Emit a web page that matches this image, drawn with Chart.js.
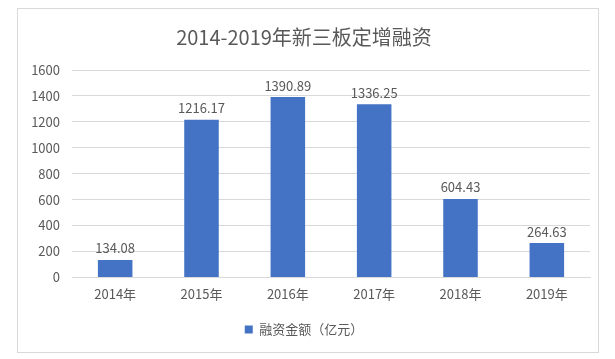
<!DOCTYPE html>
<html>
<head>
<meta charset="utf-8">
<script src="https://cdn.jsdelivr.net/npm/chart.js@4/dist/chart.umd.min.js"></script>
<style>
  body { margin: 0; background: #fff; }
  #box {
    position: absolute;
    left: 17px;
    top: 8px;
    width: 580px;
    height: 343px;
    border: 1px solid #d9d9d9;
  }
</style>
</head>
<body>
<div id="box"><canvas id="chart" width="580" height="343"></canvas></div>
<script>
const years = ["2014年", "2015年", "2016年", "2017年", "2018年", "2019年"];
const amounts = [134.08, 1216.17, 1390.89, 1336.25, 604.43, 264.63];
const seriesName = "融资金额（亿元）";
const titleText = "2014-2019年新三板定增融资";

const textColor = "#595959";
const fontFamily = "'Noto Sans CJK SC', 'Noto Sans', sans-serif";

// values above each bar
const barLabels = {
  id: "barLabels",
  afterDatasetsDraw(chart) {
    const ctx = chart.ctx;
    const meta = chart.getDatasetMeta(0);
    ctx.save();
    ctx.font = "13px " + fontFamily;
    ctx.fillStyle = textColor;
    ctx.textAlign = "center";
    ctx.textBaseline = "bottom";
    meta.data.forEach((bar, i) => {
      ctx.fillText(amounts[i].toFixed(2), bar.x, bar.y - 5);
    });
    ctx.restore();
  },
};

new Chart(document.getElementById("chart"), {
  type: "bar",
  data: {
    labels: years,
    datasets: [{
      label: seriesName,
      data: amounts,
      backgroundColor: "#4472C4",
      categoryPercentage: 0.8,
      barPercentage: 0.5,
    }],
  },
  options: {
    responsive: false,
    animation: false,
    layout: { padding: { top: 10, right: 8, bottom: 6, left: 0 } },
    plugins: {
      title: {
        display: true,
        text: titleText,
        color: textColor,
        font: { family: fontFamily, size: 20, weight: "normal" },
        padding: { top: 6, bottom: 21 },
      },
      legend: {
        position: "bottom",
        labels: {
          color: textColor,
          font: { family: fontFamily, size: 13 },
          boxWidth: 8,
          boxHeight: 8,
          padding: 10,
        },
      },
      tooltip: { enabled: false },
    },
    scales: {
      x: {
        grid: { display: false, drawTicks: false },
        border: { color: "#d9d9d9" },
        ticks: {
          color: textColor,
          font: { family: fontFamily, size: 13 },
          padding: 9,
        },
        afterFit(scale) {
          scale.height += 2;
        },
      },
      y: {
        min: 0,
        max: 1600,
        grid: { color: "#d9d9d9", drawTicks: false },
        border: { display: false },
        ticks: {
          stepSize: 200,
          color: textColor,
          font: { family: fontFamily, size: 13 },
          padding: 12,
          callback: (value) => String(value),
        },
        afterFit(scale) {
          scale.width = 54;
        },
      },
    },
  },
  plugins: [barLabels],
});
</script>
</body>
</html>
